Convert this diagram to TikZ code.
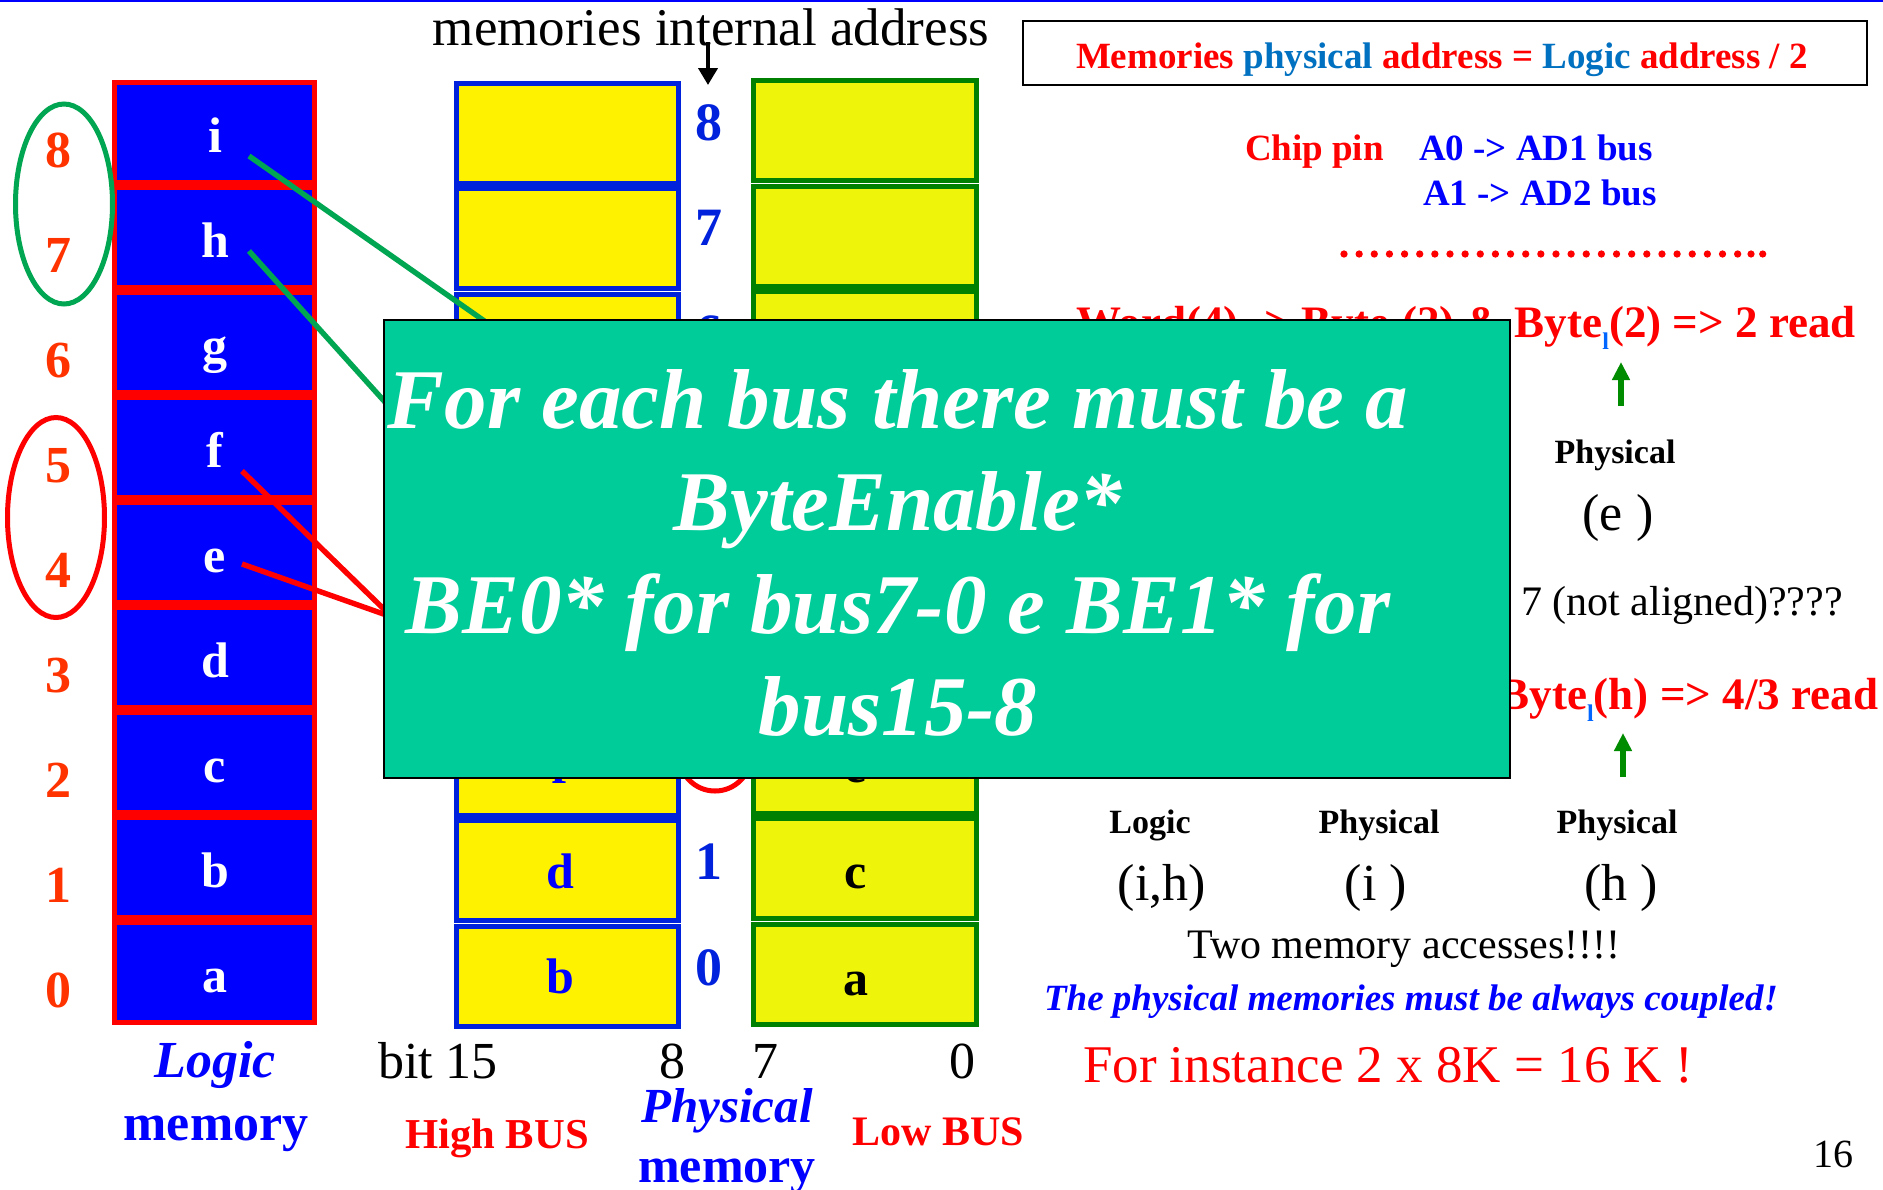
\documentclass[tikz,border=0pt]{standalone}
\usepackage{fontspec}
\setmainfont{Liberation Serif}
\usetikzlibrary{arrows.meta}

\definecolor{lblue}{RGB}{0,0,255}
\definecolor{lred}{RGB}{255,0,0}
\definecolor{numorange}{RGB}{255,51,0}
\definecolor{hiblue}{RGB}{0,34,221}
\definecolor{lowgreen}{RGB}{0,128,0}
\definecolor{lowfill}{RGB}{238,245,10}
\definecolor{boxteal}{RGB}{0,204,153}
\definecolor{linegreen}{RGB}{0,166,81}
\definecolor{hdrblue}{RGB}{0,112,192}
\definecolor{subblue}{RGB}{0,102,255}
\definecolor{arrowgreen}{RGB}{0,140,0}

\newcommand\fsz[1]{\fontsize{#1pt}{#1pt}\selectfont}
\newcommand\sbl{\raisebox{-6pt}{\fontsize{12pt}{12pt}\selectfont\color{subblue}l}}
\newcommand\sbh{\raisebox{-6pt}{\fontsize{12pt}{12pt}\selectfont\color{subblue}h}}

\tikzset{
  lcell/.style={draw=lred, fill=lblue, line width=2.5pt, minimum width=100pt,
    minimum height=50pt, inner sep=0pt, outer sep=0pt},
  hcell/.style={draw=hiblue, fill=yellow, line width=2.5pt, minimum width=111pt,
    minimum height=50pt, inner sep=0pt, outer sep=0pt},
  wcell/.style={draw=lowgreen, fill=lowfill, line width=2.5pt, minimum width=111.5pt,
    minimum height=50pt, inner sep=0pt, outer sep=0pt},
  txt/.style={inner sep=0pt, outer sep=0pt, anchor=base},
  lletter/.style={txt, text=white, font=\bfseries\fsz{25}},
  lnum/.style={txt, text=numorange, font=\bfseries\fsz{26}},
  addrnum/.style={txt, text=hiblue, font=\bfseries\fsz{27}},
  gline/.style={draw=linegreen, line width=2.7pt},
  rline/.style={draw=lred, line width=2.7pt},
  uparrow/.style={draw=arrowgreen, line width=3pt, -{Triangle[length=9pt, width=8.5pt]}},
}

\begin{document}
\begin{tikzpicture}[x=0.5pt, y=-0.5pt]
\useasboundingbox (0,0) rectangle (1883,1189);
\fill[white] (0,0) rectangle (1883,1189);
\draw[lblue, line width=1pt] (0,1) -- (1883,1);

% logic memory: nine byte cells with their addresses
\foreach \k/\t in {0/a,1/b,2/c,3/d,4/e,5/f,6/g,7/h,8/i} {
  \node[lcell] (L\t) at (214, {132.5+(8-\k)*105}) {};
  \node[lletter] (Lt\t) at (215, {152.5+(8-\k)*105}) {\t};
  \node[lnum] (N\k) at (58, {167.5+(8-\k)*105}) {\k};
}

% physical memory: high and low byte banks
\foreach \k in {0,...,8} {
  \node[hcell] (H\k) at (567.5, {133.65+(8-\k)*105.33}) {};
  \node[wcell] (W\k) at (865, {130.7+(8-\k)*105.44}) {};
}
% internal addresses between the banks
\foreach \k in {0,1,6,7,8} {
  \node[addrnum] (A\k) at (709, {985-\k*105.6}) {\k};
}
\node[txt, text=lblue, font=\bfseries\fsz{25}] (Hb) at (560,993) {b};
\node[txt, text=lblue, font=\bfseries\fsz{25}] (Hd) at (560,888) {d};
\node[txt, text=lblue, font=\bfseries\fsz{25}] (Hf) at (560,783) {f};
\node[txt, text=black, font=\bfseries\fsz{25}] (Wa) at (856,995) {a};
\node[txt, text=black, font=\bfseries\fsz{25}] (Wc) at (856,888) {c};
\node[txt, text=black, font=\bfseries\fsz{25}] (We) at (856,782) {e};

% internal address label and its arrow
\node[txt, font=\fsz{26.5}] (intaddr) at (711,45) {memories internal address};
\coordinate (atail) at (708,42);
\coordinate (ahead) at (708,85);
\draw[line width=2pt, -{Triangle[length=8.5pt, width=9.5pt]}] (atail) -- (ahead);

% groupings of logic addresses
\draw[linegreen, line width=2.5pt] (64,204) ellipse [x radius=24.25pt, y radius=50pt];
\draw[lred, line width=2.5pt] (56,517.5) ellipse [x radius=24.25pt, y radius=50pt];
\draw[lred, line width=2.5pt] (715,755) circle [radius=18pt];

% byte mapping connectors
\coordinate (iS) at (249,156);
\coordinate (iT) at (560,374);
\coordinate (hS) at (249,251);
\coordinate (hT) at (430,452);
\coordinate (fS) at (242,471);
\coordinate (eS) at (242,564);
\coordinate (efT) at (392,617);
\draw[gline] (iS) -- (iT);
\draw[gline] (hS) -- (hT);
\draw[rline] (fS) -- (efT);
\draw[rline] (eS) -- (efT);

% bottom captions
\node[txt, text=lblue, font=\bfseries\itshape\fsz{26}] (capLogic) at (215,1077) {Logic};
\node[txt, text=lblue, font=\bfseries\fsz{26}] (capLmem) at (216,1140) {memory};
\node[txt, font=\fsz{26}] (bit15) at (438,1078) {bit 15};
\node[txt, font=\fsz{26}] (bit8) at (672,1078) {8};
\node[txt, font=\fsz{26}] (bit7) at (765,1078) {7};
\node[txt, font=\fsz{26}] (bit0) at (962,1078) {0};
\node[txt, text=lred, font=\bfseries\fsz{21.3}] (hibus) at (497,1148) {High BUS};
\node[txt, text=lblue, font=\bfseries\itshape\fsz{24.5}] (capPhys) at (727,1122) {Physical};
\node[txt, text=lblue, font=\bfseries\fsz{25}] (capPmem) at (727,1182) {memory};
\node[txt, text=lred, font=\bfseries\fsz{21}] (lobus) at (938,1145) {Low BUS};

% right-hand notes (the first lines sit partly under the overlay)
\node[txt, anchor=base west, text=lred, font=\bfseries\fsz{22.5}] (rd2) at (1076,337)
  {Word(4) -> Byte\sbh(2) \& Byte\sbl(2) => 2 read};
\node[txt, anchor=base east, text=lred, font=\bfseries\fsz{22.5}] (rd43) at (1878,709)
  {Byte\sbl(h) => 4/3 read};

% overlay note on byte enables
\node[draw=black, fill=boxteal, line width=1pt, minimum width=563pt, minimum height=229pt,
  inner sep=0pt] (bebox) at (947,548.5) {};
\begin{scope}[every node/.style={txt, text=white, font=\bfseries\itshape\fsz{42.5}}]
\node (be1) at (898,428) {For each bus there must be a};
\node (be2) at (898,530) {ByteEnable*};
\node (be3) at (898,633) {BE0* for bus7-0 e BE1* for};
\node (be4) at (898,735) {bus15-8};
\end{scope}

% header
\node[draw=black, line width=1pt, minimum width=422pt, minimum height=32pt, inner sep=0pt]
  (hdrbox) at (1445,53) {};
\node[txt, font=\bfseries\fsz{18.5}] (hdr) at (1442,68)
  {\textcolor{lred}{Memories} \textcolor{hdrblue}{physical} \textcolor{lred}{address =}
   \textcolor{hdrblue}{Logic} \textcolor{lred}{address / 2}};

\node[txt, anchor=base west, text=lred, font=\bfseries\fsz{18.5}] (chip) at (1245,160) {Chip pin};
\node[txt, anchor=base west, text=lblue, font=\bfseries\fsz{18.5}] (a0) at (1419,160) {A0 -> AD1 bus};
\node[txt, anchor=base west, text=lblue, font=\bfseries\fsz{18.5}] (a1) at (1423,205) {A1 -> AD2 bus};

% dotted separator
\coordinate (dotL) at (1344,254);
\coordinate (dotR) at (1740,254);
\draw[lred, line width=3.65pt, line cap=round, dash pattern=on 0pt off 7.57pt] (dotL) -- (dotR);
\fill[lred] (1751,254) circle [radius=1.8pt];
\fill[lred] (1762.7,254) circle [radius=1.8pt];

\coordinate (g1s) at (1621,406);
\coordinate (g1e) at (1621,362);
\draw[uparrow] (g1s) -- (g1e);
\node[txt, font=\bfseries\fsz{17}] (phE) at (1615,463) {Physical};
\node[txt, font=\fsz{26}] (parE) at (1618,530) {(e )};
\node[txt, anchor=base west, font=\fsz{21}] (notal) at (1521,615) {7 (not aligned)????};

\coordinate (g2s) at (1623,777);
\coordinate (g2e) at (1623,733);
\draw[uparrow] (g2s) -- (g2e);
\node[txt, font=\bfseries\fsz{17}] (lgIH) at (1150,833) {Logic};
\node[txt, font=\bfseries\fsz{17}] (phI) at (1379,833) {Physical};
\node[txt, font=\bfseries\fsz{17}] (phH) at (1617,833) {Physical};
\node[txt, font=\fsz{26}] (parIH) at (1162,900) {(i,h)};
\node[txt, font=\fsz{26}] (parI) at (1376,900) {(i )};
\node[txt, font=\fsz{26}] (parH) at (1621,900) {(h )};
\node[txt, font=\fsz{21}] (twoacc) at (1404,958) {Two memory accesses!!!!};
\node[txt, text=lblue, font=\bfseries\itshape\fsz{18.5}] (coupled) at (1411,1010)
  {The physical memories must be always coupled!};
\node[txt, text=lred, font=\fsz{26.5}] (inst) at (1388,1082) {For instance 2 x 8K = 16 K !};
\node[txt, font=\fsz{20}] (pg) at (1833,1167) {16};
\end{tikzpicture}
\end{document}
